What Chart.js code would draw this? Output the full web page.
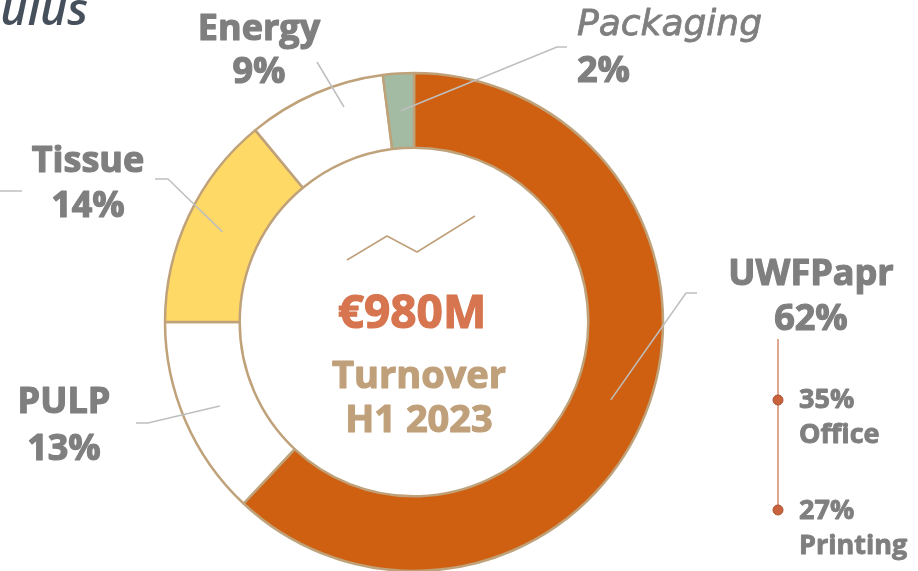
<!DOCTYPE html>
<html>
<head>
<meta charset="utf-8">
<script src="https://cdn.jsdelivr.net/npm/chart.js@4.4.1/dist/chart.umd.min.js"></script>
<style>
  html, body { margin: 0; padding: 0; background: #fff; }
  #wrap { width: 918px; height: 571px; position: relative; overflow: hidden; }
</style>
</head>
<body>
<div id="wrap"><canvas id="turnover" width="918" height="571"></canvas></div>
<script>
// turnover split H1 2023
const categories = ['UWFPapr', 'PULP', 'Tissue', 'Energy', 'Packaging'];
const shares = [62, 13, 14, 9, 2];
const sliceColors = ['#D06011', '#FFFFFF', '#FFD966', '#FFFFFF', '#A3BAA3'];
const subCategories = ['Office', 'Printing'];
const subShares = [35, 27];
const totalText = '€980M';
const centerLines = ['Turnover', 'H1 2023'];

const GREY = '#7F7F7F';
const LEADER = '#BFBFBF';
const TAN = '#BFA07A';

// where each category label sits (layout only)
const labelLayout = {
    UWFPapr:   { x: 811, y: [285, 330], align: 'center', elbow: [686, 293], end: [697, 293] },
    PULP:      { x: 64,  y: [413, 460], align: 'center', elbow: [148, 423], end: [136, 423] },
    Tissue:    { x: 88,  y: [172, 217], align: 'center', elbow: [168, 179], end: [155, 179] },
    Energy:    { x: 259, y: [40, 83],   align: 'center', start: [344, 107], end: [317, 62] },
    Packaging: { x: 577, y: [35, 82],   align: 'left', italic: true, elbow: [557, 47], end: [567, 47] }
};

// bold text drawn a touch heavier, like the original deck font
function heavyText(ctx, txt, x, y, w) {
    ctx.fillText(txt, x, y);
    ctx.lineWidth = w;
    ctx.strokeStyle = ctx.fillStyle;
    ctx.strokeText(txt, x, y);
}

const annotations = {
    id: 'annotations',
    afterDatasetsDraw(chart) {
        const ctx = chart.ctx;
        const arcs = chart.getDatasetMeta(0).data;
        ctx.save();
        ctx.lineJoin = 'round';

        // cropped title fragment + stray leader at the left edge
        ctx.fillStyle = '#46505C';
        ctx.font = 'italic 600 46px "Open Sans"';
        ctx.textAlign = 'right';
        ctx.textBaseline = 'alphabetic';
        ctx.fillText('ulus', 88, 25);
        ctx.strokeStyle = LEADER;
        ctx.lineWidth = 1.5;
        ctx.beginPath();
        ctx.moveTo(0, 191);
        ctx.lineTo(22, 191);
        ctx.stroke();

        // category labels with leader lines
        categories.forEach((name, i) => {
            const lay = labelLayout[name];
            const c = arcs[i].getCenterPoint();
            const s = lay.start || [c.x, c.y];
            ctx.strokeStyle = LEADER;
            ctx.lineWidth = 1.5;
            ctx.beginPath();
            ctx.moveTo(s[0], s[1]);
            if (lay.elbow) ctx.lineTo(lay.elbow[0], lay.elbow[1]);
            ctx.lineTo(lay.end[0], lay.end[1]);
            ctx.stroke();

            ctx.fillStyle = GREY;
            ctx.textAlign = lay.align;
            if (lay.italic) {
                ctx.font = 'italic 36px "DejaVu Sans"';
                heavyText(ctx, name, lay.x, lay.y[0], 0.8);
            } else {
                ctx.font = 'bold 36px "Open Sans"';
                heavyText(ctx, name, lay.x, lay.y[0], 1.2);
            }
            ctx.font = 'bold 36px "Open Sans"';
            heavyText(ctx, shares[i] + '%', lay.x, lay.y[1], 1.2);
        });

        // UWFPapr breakdown
        ctx.strokeStyle = '#D58A6C';
        ctx.lineWidth = 1.5;
        ctx.beginPath();
        ctx.moveTo(778, 339);
        ctx.lineTo(778, 510);
        ctx.stroke();
        const dotY = [400, 510];
        const textY = [[408, 443], [519, 554]];
        subCategories.forEach((name, i) => {
            ctx.beginPath();
            ctx.arc(778, dotY[i], 5, 0, Math.PI * 2);
            ctx.fillStyle = '#C8633D';
            ctx.fill();
            ctx.strokeStyle = '#A8502F';
            ctx.lineWidth = 1;
            ctx.stroke();
            ctx.fillStyle = GREY;
            ctx.textAlign = 'left';
            ctx.font = 'bold 27px "Open Sans"';
            heavyText(ctx, subShares[i] + '%', 799, textY[i][0], 0.9);
            heavyText(ctx, name, 799, textY[i][1], 0.9);
        });

        // centre: little trend line and totals
        ctx.strokeStyle = TAN;
        ctx.lineWidth = 1.5;
        ctx.beginPath();
        ctx.moveTo(347, 260);
        ctx.lineTo(387, 236);
        ctx.lineTo(417, 252);
        ctx.lineTo(475, 216);
        ctx.stroke();

        ctx.textAlign = 'center';
        ctx.fillStyle = '#D6754F';
        ctx.font = 'bold 46px "Open Sans"';
        heavyText(ctx, totalText, 412, 328, 1.2);
        ctx.fillStyle = TAN;
        ctx.font = 'bold 38px "Open Sans"';
        heavyText(ctx, centerLines[0], 419, 388, 1.2);
        heavyText(ctx, centerLines[1], 419, 432, 1.2);

        ctx.restore();
    }
};

function drawChart() {
    new Chart(document.getElementById('turnover'), {
        type: 'doughnut',
        data: {
            labels: categories,
            datasets: [{
                data: shares,
                backgroundColor: sliceColors,
                borderColor: '#BFA27A',
                borderWidth: 2.5
            }]
        },
        options: {
            responsive: false,
            animation: false,
            devicePixelRatio: 1,
            radius: 249,
            cutout: '70%',
            layout: { padding: { left: 0, right: 90, top: 73, bottom: 0 } },
            plugins: {
                legend: { display: false },
                tooltip: { enabled: false }
            }
        },
        plugins: [annotations]
    });
}

Promise.all([
    document.fonts.load('bold 36px "Open Sans"'),
    document.fonts.load('italic 600 36px "Open Sans"'),
    document.fonts.load('italic 36px "DejaVu Sans"')
]).then(drawChart, drawChart);
</script>
</body>
</html>
